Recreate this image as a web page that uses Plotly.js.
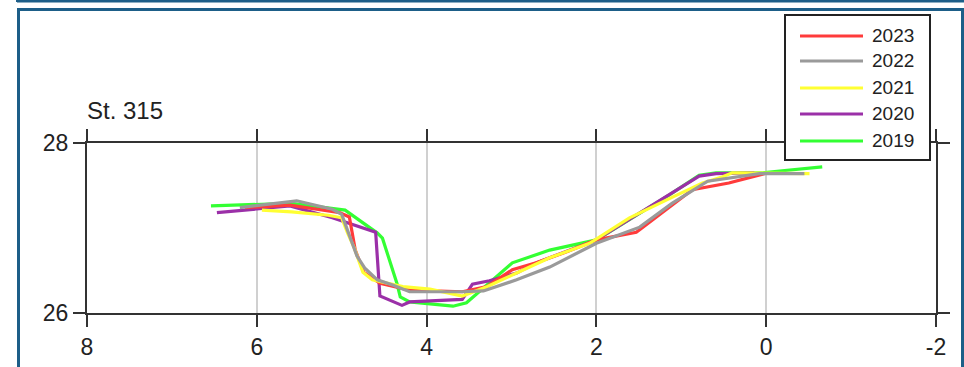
<!DOCTYPE html>
<html>
<head>
<meta charset="utf-8">
<script src="https://cdn.plot.ly/plotly-3.0.1.min.js"></script>
<style>
html,body{margin:0;padding:0;background:#fff;}
#chart{width:964px;height:367px;}
</style>
</head>
<body>
<div id="chart"></div>
<script>
// ---- data ----
const years = ["2023", "2022", "2021", "2020", "2019"];
const colors = ["#ff3b3b", "#9a9a9a", "#ffff33", "#9b30a8", "#33ff33"];

const x2023 = [6.14, 5.61, 5.02, 4.91, 4.84, 4.74, 4.55, 4.20, 3.58, 3.29, 2.99, 2.71, 2.35, 2.00, 1.53, 0.87, 0.44, 0.02];
const y2023 = [27.24, 27.27, 27.18, 27.13, 26.74, 26.48, 26.35, 26.27, 26.25, 26.31, 26.51, 26.59, 26.72, 26.86, 26.95, 27.45, 27.53, 27.64];

const x2022 = [6.20, 5.53, 5.11, 5.00, 4.82, 4.73, 4.58, 4.40, 4.20, 3.58, 3.33, 2.94, 2.55, 2.00, 1.49, 1.11, 0.69, 0.08, -0.45];
const y2022 = [27.24, 27.32, 27.22, 27.16, 26.67, 26.53, 26.39, 26.33, 26.25, 26.25, 26.26, 26.39, 26.54, 26.82, 27.01, 27.29, 27.55, 27.64, 27.64];

const x2021 = [5.94, 5.59, 5.16, 5.00, 4.93, 4.85, 4.75, 4.64, 4.28, 3.96, 3.58, 3.29, 2.94, 2.55, 2.08, 1.61, 1.11, 0.75, 0.52, 0.40, -0.51];
const y2021 = [27.21, 27.19, 27.15, 27.12, 26.94, 26.76, 26.48, 26.39, 26.31, 26.28, 26.20, 26.31, 26.47, 26.65, 26.82, 27.12, 27.36, 27.53, 27.60, 27.65, 27.64];

const x2020 = [6.47, 6.00, 5.61, 5.11, 4.79, 4.60, 4.55, 4.29, 4.20, 3.58, 3.46, 3.26, 2.94, 2.71, 2.00, 0.79, 0.59, 0.14];
const y2020 = [27.18, 27.22, 27.26, 27.12, 27.01, 26.95, 26.20, 26.09, 26.13, 26.16, 26.34, 26.38, 26.47, 26.59, 26.86, 27.61, 27.64, 27.65];

const x2019 = [6.54, 5.59, 4.96, 4.58, 4.52, 4.35, 4.31, 4.20, 3.69, 3.53, 2.99, 2.55, 2.00, 1.14, 0.79, 0.59, 0.05, -0.66];
const y2019 = [27.26, 27.29, 27.21, 26.94, 26.88, 26.35, 26.19, 26.13, 26.08, 26.12, 26.59, 26.74, 26.86, 27.39, 27.62, 27.65, 27.65, 27.72];

const xTicks = [8, 6, 4, 2, 0, -2];
const yTicks = [26, 28];
const stationTitle = "St. 315";

// ---- layout helpers (pixel -> paper) ----
const W = 964, H = 367;
const M = {l: 87, r: 28, t: 143, b: 54};
const PW = W - M.l - M.r, PH = H - M.t - M.b;
const px = v => (v - M.l) / PW;
const py = v => (H - M.b - v) / PH;

const seriesX = {"2023": x2023, "2022": x2022, "2021": x2021, "2020": x2020, "2019": x2019};
const seriesY = {"2023": y2023, "2022": y2022, "2021": y2021, "2020": y2020, "2019": y2019};

// draw order (bottom to top)
const drawOrder = ["2019", "2020", "2023", "2021", "2022"];
const traces = drawOrder.map(yr => ({
  type: "scatter", mode: "lines", name: yr,
  x: seriesX[yr], y: seriesY[yr],
  line: {color: colors[years.indexOf(yr)], width: 3.2},
  showlegend: false, hoverinfo: "x+y+name"
}));

const fam = "Liberation Sans, Arial, sans-serif";
const frameColor = "#1d5e88";
const shapes = [
  // outer decorative frames
  {type: "line", xref: "paper", yref: "paper", x0: px(17), x1: px(964), y0: py(1), y1: py(1), line: {color: frameColor, width: 3}, layer: "above"},
  {type: "line", xref: "paper", yref: "paper", x0: px(17.5), x1: px(17.5), y0: py(-2), y1: py(2), line: {color: frameColor, width: 3}, layer: "above"},
  {type: "line", xref: "paper", yref: "paper", x0: px(17), x1: px(964), y0: py(9.5), y1: py(9.5), line: {color: frameColor, width: 3}, layer: "above"},
  {type: "line", xref: "paper", yref: "paper", x0: px(18.5), x1: px(18.5), y0: py(8), y1: py(370), line: {color: frameColor, width: 3}, layer: "above"},
  {type: "line", xref: "paper", yref: "paper", x0: px(962.5), x1: px(962.5), y0: py(8), y1: py(370), line: {color: frameColor, width: 3}, layer: "above"},
  // legend box
  {type: "rect", xref: "paper", yref: "paper", x0: px(785), x1: px(930), y0: py(15), y1: py(160), line: {color: "#222", width: 2}, fillcolor: "#ffffff", layer: "above"}
];

const annotations = [
  {xref: "paper", yref: "paper", x: px(85), y: py(110), xanchor: "left", yanchor: "middle",
   text: stationTitle, showarrow: false, font: {family: fam, size: 24, color: "#222"}}
];

const legendY = [36, 61, 88, 114, 141];
years.forEach((yr, i) => {
  shapes.push({type: "line", xref: "paper", yref: "paper", x0: px(800), x1: px(863), y0: py(legendY[i]), y1: py(legendY[i]),
    line: {color: colors[i], width: 3}, layer: "above"});
  annotations.push({xref: "paper", yref: "paper", x: px(870), y: py(legendY[i] - 1), xanchor: "left", yanchor: "middle",
    text: yr, showarrow: false, font: {family: fam, size: 19, color: "#222"}});
});

const axisFont = {family: fam, size: 23, color: "#222"};

const layout = {
  width: W, height: H,
  margin: {l: M.l, r: M.r, t: M.t, b: M.b, pad: 0},
  paper_bgcolor: "#ffffff", plot_bgcolor: "#ffffff",
  showlegend: false,
  xaxis: {
    range: [8, -2], tickvals: xTicks, ticktext: xTicks.map(String),
    showgrid: true, gridcolor: "#d0d0d0", gridwidth: 2,
    zeroline: false,
    showline: true, linecolor: "#333", linewidth: 2, mirror: "ticks",
    ticks: "outside", ticklen: 12, tickwidth: 2, tickcolor: "#333",
    tickfont: axisFont, fixedrange: true
  },
  yaxis: {
    range: [26, 28], tickvals: yTicks, ticktext: yTicks.map(String),
    showgrid: false, zeroline: false,
    showline: true, linecolor: "#333", linewidth: 2, mirror: "ticks",
    ticks: "outside", ticklen: 12, tickwidth: 2, tickcolor: "#333",
    tickfont: axisFont, fixedrange: true
  },
  shapes: shapes,
  annotations: annotations
};

Plotly.newPlot("chart", traces, layout, {displayModeBar: false, staticPlot: true});
</script>
</body>
</html>
